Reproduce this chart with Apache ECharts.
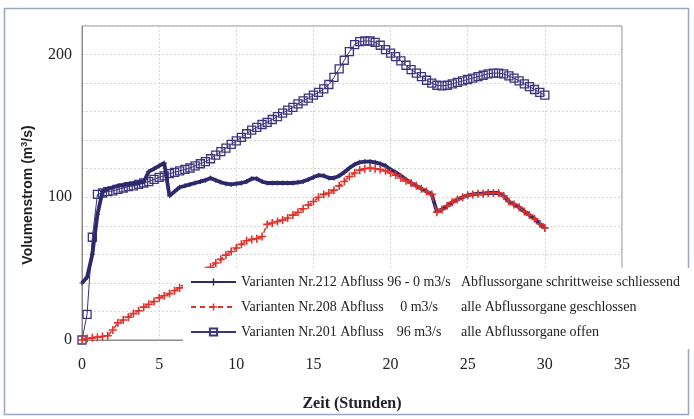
<!DOCTYPE html>
<html>
<head>
<meta charset="utf-8">
<script src="https://cdn.jsdelivr.net/npm/echarts@6/dist/echarts.min.js"></script>
<style>
  html, body { margin: 0; padding: 0; background: #fff; }
  #chart { width: 694px; height: 419px; }
</style>
</head>
<body>
<div id="chart"></div>
<script>
// Simulation time in hours (20-minute steps)
const hours = [0,0.33,0.67,1,1.33,1.67,2,2.33,2.67,3,3.33,3.67,4,4.33,4.67,5,5.33,5.67,6,6.33,
  6.67,7,7.33,7.67,8,8.33,8.67,9,9.33,9.67,10,10.33,10.67,11,11.33,11.67,12,12.33,12.67,13,
  13.33,13.67,14,14.33,14.67,15,15.33,15.67,16,16.33,16.67,17,17.33,17.67,18,18.33,18.67,19,19.33,19.67,
  20,20.33,20.67,21,21.33,21.67,22,22.33,22.67,23,23.33,23.67,24,24.33,24.67,25,25.33,25.67,26,26.33,
  26.67,27,27.33,27.67,28,28.33,28.67,29,29.33,29.67,30];

// Variante 212: outflow 96 - 0 m3/s, gates closing step by step
const flow212 = [40,44,60,88,104,106,107,108,108.5,109,
  109.5,110,111,118,120,122,124,101,104,107,
  108,109,110,111,112,113.5,112,110.5,109.5,109,
  109.5,110,111,113,113,111,110,110,110,110,
  110,110,110.5,111,112.5,114,115.5,115,113.5,113.5,
  115,117.5,120.5,123,124.5,125,125,124.5,123.5,122,
  119.5,117.5,115,112.5,110,108,106,104,102,90,
  91.5,94,96.5,98.5,100,101.5,102,102.5,102.5,103,
  103,103,101,97,95,93,90,87.5,85,81.5,
  78.5];

// Variante 208: outflow 0 m3/s, all gates closed
const flow208 = [0,1,1.5,2,2.5,3,7,12,14,16,
  18.5,20.5,23,25,27,29.5,31,32.5,34.5,36.5,
  38,40.5,43,46,48.5,51,54,56.5,59.5,62,
  64.5,67,69.5,70.5,71,72.5,81,82,83,84,
  85.5,87.5,89.5,92,94.5,97,100,102,103,105,
  108,111,114.5,117,119,120,120.5,120,119.5,118.5,
  117,115.5,113.5,111.5,110,108,106,104,102,89.5,
  91.5,94,96.5,98.5,100,101.5,102,102.5,102.5,103,
  103,103,101,97,95,93,90,87.5,85,81.5,
  78.5];

// Variante 201: outflow 96 m3/s, all gates open
const flow201 = [0,18,72,102,103,104,104.5,105.5,106.5,107.5,
  108,109,110,111,112.5,114,115,116.5,117.5,118.5,
  119.5,120.5,122,123.5,125,127,129.5,132,134.5,137,
  139.5,142,144.5,147,149,151,152.5,154.5,156.5,159,
  161,163,165.5,167.5,169.5,171.5,173.5,176,179,184,
  190,196,202,207,209,209.5,209.5,208.5,206.5,203.5,
  201,198.5,195.5,192.5,189.5,187,184.5,182,180,178.5,
  178,178.5,179.5,180.5,181.5,182.5,183.5,184.5,185.5,186.5,
  187,187,186.5,185,183.5,181.5,179.5,177.5,175.5,173.5,
  171.5];

// Legend columns
const legendRun = ['Varianten Nr.212 Abfluss', 'Varianten Nr.208 Abfluss', 'Varianten Nr.201 Abfluss'];
const legendFlow = ['96 - 0 m3/s', '0 m3/s', '96 m3/s'];
const legendState = ['Abflussorgane schrittweise schliessend', 'alle Abflussorgane geschlossen', 'alle Abflussorgane offen'];

const xTicks = { min: 0, max: 35, step: 5 };
const yTicks = { min: 0, max: 220, step: 20, labelEvery: 100 };

const seriesNames = legendRun.map((r, i) => r + ' ' + legendFlow[i] + ' ' + legendState[i]);
const pair = arr => hours.map((t, i) => [t, arr[i]]);

const plusPath = 'path://M4,0L6,0L6,4L10,4L10,6L6,6L6,10L4,10L4,6L0,6L0,4L4,4Z';
const serif = '"Liberation Serif", "Times New Roman", serif';
const sans = '"Liberation Sans", Arial, sans-serif';
const navy = '#2c2a6c';
const red = '#e0312a';
const violet = '#3a347f';

const chart = echarts.init(document.getElementById('chart'), null, { renderer: 'canvas' });

chart.setOption({
  animation: false,
  backgroundColor: '#ffffff',
  graphic: [{
    type: 'rect',
    shape: { x: 4.5, y: 8.5, width: 684, height: 406 },
    style: { fill: 'none', stroke: '#9aa6bf', lineWidth: 1.5 },
    z: -1
  }],
  grid: {
    left: 82, right: 72, top: 26, bottom: 79,
    show: true, borderColor: '#8f8a86', borderWidth: 1
  },
  xAxis: {
    type: 'value',
    min: xTicks.min, max: xTicks.max, interval: xTicks.step,
    axisLine: { show: true, lineStyle: { color: '#8f8a86', width: 1 } },
    axisTick: { show: false },
    splitLine: { show: true, lineStyle: { color: '#d6d6d6', width: 1, type: [2, 2] } },
    axisLabel: { color: '#222', fontFamily: serif, fontSize: 16, margin: 17 },
    name: 'Zeit (Stunden)',
    nameLocation: 'middle',
    nameGap: 56,
    nameTextStyle: { color: '#222', fontFamily: serif, fontSize: 16, fontWeight: 'bold' }
  },
  yAxis: {
    type: 'value',
    min: yTicks.min, max: yTicks.max, interval: yTicks.step,
    axisLine: { show: true, lineStyle: { color: '#8f8a86', width: 1 } },
    axisTick: { show: false },
    splitLine: { show: true, lineStyle: { color: '#d6d6d6', width: 1, type: [2, 2] } },
    axisLabel: {
      color: '#222', fontFamily: serif, fontSize: 16, margin: 10,
      formatter: v => (v % yTicks.labelEvery === 0 ? String(v) : '')
    },
    name: 'Volumenstrom (m{sup|3}/s)',
    nameLocation: 'middle',
    nameGap: 46,
    nameRotate: 90,
    nameTextStyle: {
      color: '#222', fontFamily: sans, fontSize: 14, fontWeight: 'bold',
      padding: [0, 24, 0, 0],
      rich: {
        sup: { fontFamily: sans, fontSize: 9, fontWeight: 'bold', verticalAlign: 'top', padding: [0, 0, 7, 0] }
      }
    }
  },
  legend: {
    orient: 'vertical',
    left: 183, top: 268,
    z: 10,
    backgroundColor: '#ffffff',
    padding: [6, 12, 9, 7],
    itemWidth: 45, itemHeight: 9, itemGap: 9,
    data: seriesNames,
    textStyle: {
      color: '#222', fontFamily: serif, fontSize: 14, lineHeight: 16,
      rich: {
        a: { fontFamily: serif, fontSize: 14, color: '#222', width: 146 },
        b: { fontFamily: serif, fontSize: 14, color: '#222', width: 64, align: 'right' },
        c: { fontFamily: serif, fontSize: 14, color: '#222', padding: [0, 0, 0, 10] }
      }
    },
    formatter: name => {
      const i = seriesNames.indexOf(name);
      return '{a|' + legendRun[i] + '}{b|' + legendFlow[i] + '}{c|' + legendState[i] + '}';
    }
  },
  series: [
    {
      name: seriesNames[0],
      type: 'line',
      z: 3,
      data: pair(flow212),
      symbol: plusPath, symbolSize: 5,
      itemStyle: { color: navy },
      lineStyle: { color: navy, width: 3.8 }
    },
    {
      name: seriesNames[1],
      type: 'line',
      z: 4,
      data: pair(flow208),
      symbol: plusPath, symbolSize: 8,
      itemStyle: { color: red },
      lineStyle: { color: red, width: 1.5, type: [5, 4] }
    },
    {
      name: seriesNames[2],
      type: 'line',
      z: 2,
      data: pair(flow201),
      symbol: 'rect', symbolSize: 8,
      itemStyle: { color: 'rgba(255,255,255,0)', borderColor: violet, borderWidth: 1.3 },
      lineStyle: { color: violet, width: 1 }
    }
  ]
});
</script>
</body>
</html>
